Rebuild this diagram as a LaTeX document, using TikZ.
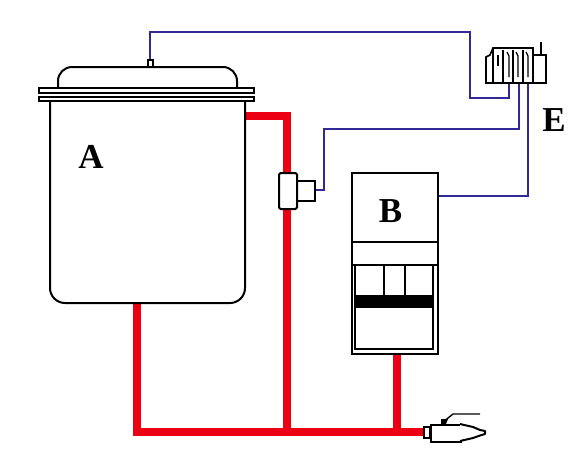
\documentclass[tikz,border=0pt]{standalone}
\usepackage{fontspec}
\setmainfont{Liberation Serif}
\definecolor{wirecol}{RGB}{50,40,150}
\definecolor{pipecol}{RGB}{235,0,20}
\tikzset{
  outline/.style={draw=black,line width=2pt,fill=white},
  thin outline/.style={draw=black,line width=1.6pt},
  wire/.style={draw=wirecol,line width=1.4pt},
  pipe/.style={draw=pipecol,line width=8pt},
  letter/.style={font=\fontsize{35}{35}\selectfont\bfseries,inner sep=0pt},
  boxat/.style={outline,inner sep=0pt,anchor=north west,rectangle}
}
\begin{document}
\begin{tikzpicture}[x=1pt,y=-1pt]
\useasboundingbox (0,0) rectangle (583,469);
% coordinates
\coordinate (tankOut) at (245,116);
\coordinate (tankBot) at (137,302);
\coordinate (teeA) at (287,116);
\coordinate (joinL) at (137,432);
\coordinate (joinM) at (287,432);
\coordinate (joinB) at (397,432);
\coordinate (valveIn) at (426,432);
\coordinate (breakerBot) at (397,353);
\coordinate (stemTop) at (150,60);
\coordinate (w1a) at (150,32);
\coordinate (w1b) at (470,32);
\coordinate (w1c) at (470,98);
\coordinate (w1d) at (509,98);
\coordinate (t1) at (509,83);
\coordinate (t2) at (519,83);
\coordinate (t3) at (528,83);
\coordinate (w2a) at (519,129);
\coordinate (w2b) at (324,129);
\coordinate (w2c) at (324,190);
\coordinate (w3a) at (528,196);
\coordinate (w3b) at (437,196);
% pipes
\draw[pipe] (tankOut) -- (teeA) -- (joinM);
\draw[pipe] (tankBot) -- (joinL) -- (valveIn);
\draw[pipe] (breakerBot) -- (joinB);
% wires
\draw[wire] (stemTop) -- (w1a) -- (w1b) -- (w1c) -- (w1d) -- (t1);
\draw[wire] (t2) -- (w2a) -- (w2b) -- (w2c) -- (314,190);
\draw[wire] (t3) -- (w3a) -- (w3b);
% tank
\draw[outline,rounded corners=14pt] (58,90) -- (58,67) -- (237,67) -- (237,90);
\draw[outline] (148,60) rectangle (153,67);
\draw[outline,rounded corners=15pt] (50,98) -- (50,303) -- (245,303) -- (245,98);
\node[boxat,minimum width=215pt,minimum height=5pt] (flangeA) at (38,87) {};
\node[boxat,minimum width=215pt,minimum height=4.5pt] (flangeB) at (38,95.5) {};
% sensor tee
\node[boxat,minimum width=18pt,minimum height=20pt] (sensorHead) at (296,180) {};
\node[boxat,rounded corners=1.5pt,minimum width=18pt,minimum height=36pt] (sensorBody) at (278,172) {};
% breaker
\node[boxat,minimum width=86pt,minimum height=181pt] (breaker) at (351,172) {};
\draw[thin outline] (351,242) -- (437,242);
\draw[thin outline] (351,265) -- (437,265);
\draw[thin outline] (355,265) -- (355,349) -- (433,349) -- (433,265);
\draw[thin outline] (384,265) -- (384,296);
\draw[thin outline] (405,265) -- (405,296);
\fill[black] (354,295) rectangle (433.5,308);
% terminal block
\draw[thin outline] (493,83) -- (486,83) -- (486,57) -- (490,55) -- (493,48) -- (533,48) -- (533,55) -- (546,55) -- (546,83) -- cycle;
\draw[thin outline] (493,48) -- (493,83);
\draw[thin outline] (503,83) -- (503,50);
\draw[thin outline] (513,83) -- (513,50);
\draw[thin outline] (523,83) -- (523,50);
\draw[thin outline] (533,55) -- (533,83);
\draw[thin outline] (498,55) -- (498,66);
\draw[line width=1.3pt] (507,52) -- (509,56) -- (509,77);
\draw[line width=1.3pt] (516,52) -- (518,56) -- (518,77);
\draw[line width=1.3pt] (526,52) -- (528,56) -- (528,77);
\draw[line width=1.3pt] (541,42) -- (541,55);
% valve
\draw[outline] (424,427) rectangle (430,438);
\node[boxat,minimum width=30pt,minimum height=17pt] (valveBody) at (430,424) {};
\draw[outline,line join=round] (460,424) -- (473,427) -- (480,430) -- (485,431) -- (485,434) -- (480,435.5) -- (473,438) -- (460,441);
\fill (441,419) -- (448,419) -- (446,424) -- (441,424) -- cycle;
\draw[line width=1.4pt] (443,422) -- (453,414) -- (480,414);
% labels
\node[letter] (labA) at (91,157) {A};
\node[letter] (labB) at (390.5,211) {B};
\node[letter] (labE) at (554,120) {E};
\end{tikzpicture}
\end{document}
